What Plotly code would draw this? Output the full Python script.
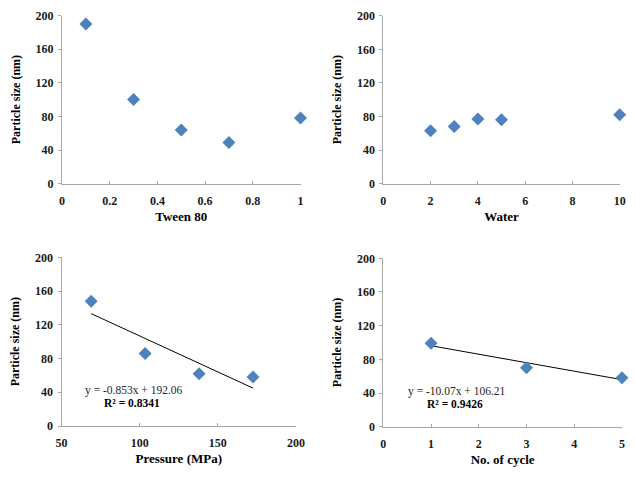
import plotly.graph_objects as go

# Data
tween = [0.1, 0.3, 0.5, 0.7, 1.0]
tween_size = [190, 100, 64, 49, 78]
water = [2, 3, 4, 5, 10]
water_size = [63, 68, 77, 76, 82]
pressure = [69, 103.5, 138, 172.5]
pressure_size = [148, 86, 62, 58]
cycles = [1, 3, 5]
cycle_size = [99, 70, 58]
p_slope, p_int, p_r2 = -0.853, 192.06, 0.8341
c_slope, c_int, c_r2 = -10.07, 106.21, 0.9426

W, H = 635, 477
BLUE = "#4F81BD"
AX = "#A6A6A6"
SERIF = "Liberation Serif, Times New Roman, serif"

fig = go.Figure()

def mk(x, y, xa, ya):
    fig.add_trace(go.Scatter(x=x, y=y, mode="markers", xaxis=xa, yaxis=ya, cliponaxis=False,
                             marker=dict(symbol="diamond", size=10, color=BLUE),
                             showlegend=False, hoverinfo="skip"))

def trend(xs, slope, inter, xa, ya):
    x0, x1 = min(xs), max(xs)
    fig.add_trace(go.Scatter(x=[x0, x1], y=[slope * x0 + inter, slope * x1 + inter],
                             mode="lines", xaxis=xa, yaxis=ya, cliponaxis=False,
                             line=dict(color="#000000", width=1),
                             showlegend=False, hoverinfo="skip"))

trend(pressure, p_slope, p_int, "x3", "y3")
trend(cycles, c_slope, c_int, "x4", "y4")
mk(tween, tween_size, "x", "y")
mk(water, water_size, "x2", "y2")
mk(pressure, pressure_size, "x3", "y3")
mk(cycles, cycle_size, "x4", "y4")

tickfont = dict(family=SERIF, size=12, color="#1a1a1a", weight="bold")
xtitlefont = dict(family=SERIF, size=13, color="#000000", weight="bold")
ytitlefont = dict(family=SERIF, size=12, color="#000000", weight="bold")

def px_dom(a, b, total):
    return [a / total, b / total]

def ydom(top, bottom):
    return [(H - bottom) / H, (H - top) / H]

panels = [
    ("xaxis", "yaxis", "y", "x", px_dom(62, 300.5, W), ydom(15.5, 183.7), [0, 1], 0.2, "Tween 80"),
    ("xaxis2", "yaxis2", "y2", "x2", px_dom(383.3, 619.7, W), ydom(15.7, 183.7), [0, 10], 2, "Water"),
    ("xaxis3", "yaxis3", "y3", "x3", px_dom(61.5, 296, W), ydom(257.3, 426), [50, 200], 50, "Pressure (MPa)"),
    ("xaxis4", "yaxis4", "y4", "x4", px_dom(383.3, 622, W), ydom(258.3, 426.7), [0, 5], 1, "No. of cycle"),
]

lay = {}
for xk, yk, yanchor, xanchor, xd, yd, xr, dt, xt in panels:
    lay[xk] = dict(domain=xd, anchor=yanchor, range=xr, dtick=dt, tick0=xr[0], automargin=False,
                   showgrid=False, zeroline=False, showline=True, linecolor=AX, linewidth=1,
                   ticks="inside", ticklen=3, tickcolor=AX, tickfont=tickfont,
                   ticklabelstandoff=6,
                   title=dict(text=xt, font=xtitlefont, standoff=4))
    lay[yk] = dict(domain=yd, anchor=xanchor, range=[0, 200], dtick=40, tick0=0, automargin=False,
                   showgrid=False, zeroline=False, showline=True, linecolor=AX, linewidth=1,
                   ticks="outside", ticklen=3, tickcolor=AX, tickfont=tickfont,
                   ticklabelstandoff=2,
                   title=dict(text="Particle size (nm)", font=ytitlefont, standoff=12))

eqfont = dict(family=SERIF, size=11.5, color="#262626")
r2font = dict(family=SERIF, size=11.5, color="#000000", weight="bold")
annots = [
    dict(x=134 / W, y=(H - 390) / H, text=f"y = {p_slope}x + {p_int}", font=eqfont),
    dict(x=131.5 / W, y=(H - 403.3) / H, text=f"R² = {p_r2}", font=r2font),
    dict(x=457.3 / W, y=(H - 391) / H, text=f"y = {c_slope}x + {c_int}", font=eqfont),
    dict(x=455 / W, y=(H - 404.3) / H, text=f"R² = {c_r2}", font=r2font),
]
for a in annots:
    a.update(xref="paper", yref="paper", showarrow=False, xanchor="center", yanchor="middle")

fig.update_layout(width=W, height=H, margin=dict(l=0, r=0, t=0, b=0),
                  paper_bgcolor="white", plot_bgcolor="white",
                  annotations=annots, **lay)

fig.write_html("out.html", config={"displayModeBar": False},
               post_script="document.body.style.margin='0';document.body.style.overflow='hidden';")
